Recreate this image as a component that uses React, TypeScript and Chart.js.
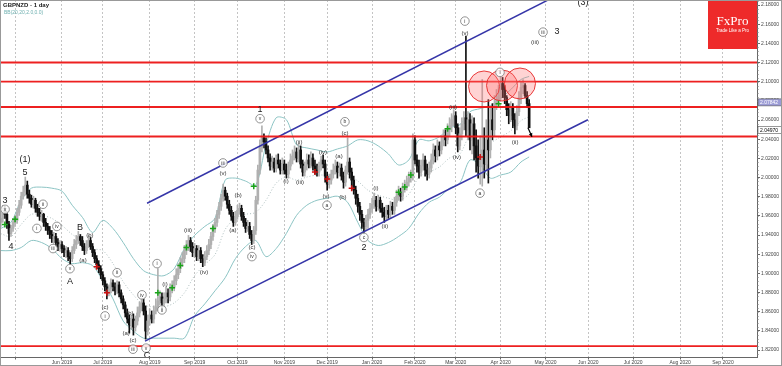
import React, { useEffect, useRef } from "react";
import { Chart, registerables } from "chart.js";

Chart.register(...registerables);

const FONT = "'Liberation Sans', 'DejaVu Sans', Arial, sans-serif";

// ---- candle data (daily, trading-day index; Jun 3 2019 = 0) ----
const START_INDEX = -30;
const FIRST_OPEN = 1.9532;
const closes = [
  1.9574, 1.9658, 1.9616, 1.9511, 1.9417, 1.9469, 1.9532, 1.9553, 1.9637, 1.9711,
  1.9805, 1.9847, 1.9921, 1.9826, 1.9784, 1.9721, 1.9763, 1.9679, 1.9637, 1.9595,
  1.9616, 1.9532, 1.949, 1.9448, 1.9406, 1.9364, 1.9385, 1.9322, 1.928, 1.9301,
  1.9259, 1.9217, 1.9238, 1.9175, 1.9154, 1.9238, 1.9301, 1.9343, 1.9385, 1.9343,
  1.928, 1.9238, 1.9301, 1.9343, 1.928, 1.9217, 1.9154, 1.9091, 1.9049, 1.8986,
  1.8923, 1.886, 1.8797, 1.8839, 1.8902, 1.886, 1.8818, 1.8881, 1.8797, 1.8734,
  1.8671, 1.8587, 1.8524, 1.8461, 1.8524, 1.844, 1.8503, 1.8587, 1.865, 1.8692,
  1.8608, 1.8398, 1.8503, 1.8566, 1.8524, 1.8608, 1.865, 1.8713, 1.8755, 1.8692,
  1.8734, 1.8797, 1.8755, 1.8839, 1.886, 1.8923, 1.8986, 1.9049, 1.9112, 1.9154,
  1.9238, 1.928, 1.9343, 1.928, 1.9217, 1.9259, 1.9175, 1.9238, 1.9154, 1.9112,
  1.9175, 1.9238, 1.9301, 1.9385, 1.9469, 1.9532, 1.9616, 1.97, 1.9784, 1.9868,
  1.9805, 1.9721, 1.9658, 1.9595, 1.9532, 1.9595, 1.9658, 1.9679, 1.9595, 1.9532,
  1.9469, 1.949, 1.9406, 1.9343, 1.9448, 1.9763, 2.0078, 2.0309, 2.0414, 2.0372,
  2.0288, 2.0204, 2.012, 2.0162, 2.0099, 2.0183, 2.0141, 2.0078, 2.0141, 2.0078,
  2.0036, 2.012, 2.0183, 2.0225, 2.0267, 2.0204, 2.0288, 2.0141, 2.0057, 2.012,
  2.0183, 2.0141, 2.0204, 2.012, 2.0078, 2.0057, 2.012, 2.0183, 2.0141, 2.0015,
  1.9931, 1.9973, 2.0036, 2.0078, 2.012, 2.0057, 2.0099, 2.0015, 1.9952, 2.0078,
  2.0162, 2.0057, 1.9973, 1.9868, 1.9784, 1.97, 1.9616, 1.9532, 1.949, 1.9553,
  1.9616, 1.9679, 1.9721, 1.9763, 1.97, 1.9763, 1.9679, 1.9637, 1.9595,
  1.9658, 1.9616, 1.97, 1.9658, 1.9742, 1.9805, 1.9847, 1.9805, 1.9889, 1.991,
  1.9952, 1.9994, 2.0015, 2.0393, 2.0183, 2.012, 2.0057, 2.012, 2.0183, 2.0078,
  2.0036, 2.0099, 2.0183, 2.0288, 2.0225, 2.033, 2.0288, 2.0372, 2.0435, 2.0393,
  2.0498, 2.054, 2.0603, 2.0645, 2.0519, 2.033, 2.0456, 2.0561, 2.0624, 2.0498,
  2.0603, 2.0393, 2.0561, 2.033, 2.0204, 2.012, 2.0183, 2.0288, 2.0141, 2.0393,
  2.0288, 2.0603, 2.0498, 2.0771, 2.0813, 2.0855, 2.0981, 2.0918, 2.0834, 2.0708,
  2.0645, 2.0729, 2.0603, 2.054, 2.0687, 2.0834, 2.0939, 2.096, 2.0855, 2.0771, 2.0519,
];
const highs = [
  1.9637, 1.9711, 1.97, 1.9648, 1.9543, 1.9501, 1.9574, 1.9606, 1.9679, 1.9763,
  1.9847, 1.991, 2.0005, 1.9963, 1.9868, 1.9816, 1.9805, 1.9784, 1.9721, 1.9679,
  1.9658, 1.9627, 1.9574, 1.9522, 1.949, 1.9448, 1.9427, 1.9417, 1.9364, 1.9343,
  1.9333, 1.9291, 1.928, 1.927, 1.9217, 1.928, 1.9354, 1.9396, 1.9438, 1.9406,
  1.9385, 1.9312, 1.9343, 1.9396, 1.9375, 1.9312, 1.9249, 1.9186, 1.9133, 1.9081,
  1.9018, 1.8955, 1.8892, 1.8881, 1.8944, 1.8934, 1.8902, 1.8923, 1.8913, 1.8829,
  1.8766, 1.8703, 1.8629, 1.8566, 1.8566, 1.8577, 1.8556, 1.865, 1.8703, 1.8745,
  1.8734, 1.8661, 1.8566, 1.8629, 1.8608, 1.8661, 1.8734, 1.9049, 1.8818, 1.8797,
  1.8797, 1.886, 1.8839, 1.8892, 1.8923, 1.8976, 1.9049, 1.9102, 1.9165, 1.9217,
  1.9291, 1.9343, 1.9396, 1.9375, 1.9322, 1.9312, 1.9291, 1.9291, 1.927, 1.9196,
  1.9228, 1.9291, 1.9354, 1.9427, 1.9511, 1.9574, 1.9658, 1.9742, 1.9826, 1.9931,
  1.99, 1.9837, 1.9763, 1.97, 1.9637, 1.9648, 1.9711, 1.9732, 1.9711, 1.9637,
  1.9574, 1.9553, 1.9532, 1.9448, 1.949, 1.9805, 2.0131, 2.0393, 2.054, 2.0456,
  2.0414, 2.033, 2.0246, 2.0225, 2.0204, 2.0236, 2.0246, 2.0183, 2.0204, 2.0183,
  2.0141, 2.0162, 2.0246, 2.0288, 2.033, 2.0309, 2.0351, 2.033, 2.0183, 2.0162,
  2.0246, 2.0236, 2.0267, 2.0246, 2.0183, 2.0141, 2.0162, 2.0225, 2.0236, 2.0183,
  2.0057, 2.0036, 2.0078, 2.0141, 2.0183, 2.0162, 2.0152, 2.0141, 2.0057, 2.012,
  2.0414, 2.0204, 2.0099, 2.0015, 1.991, 1.9826, 1.9742, 1.9658, 1.9574, 1.9606,
  1.9669, 1.9732, 1.9784, 1.9837, 1.9805, 1.9816, 1.9795, 1.9732, 1.969,
  1.9711, 1.9711, 1.9753, 1.9742, 1.9795, 1.9868, 1.991, 1.9889, 1.9942, 1.9973,
  2.0015, 2.0057, 2.0078, 2.0456, 2.0435, 2.0236, 2.0183, 2.0183, 2.0246, 2.0225,
  2.0141, 2.0162, 2.0246, 2.0351, 2.033, 2.0393, 2.0372, 2.0435, 2.0498, 2.0498,
  2.0561, 2.0624, 2.0666, 2.0708, 2.0687, 2.0561, 2.0519, 2.0624, 2.0687, 2.1475,
  2.0687, 2.0666, 2.0645, 2.0624, 2.0498, 2.0393, 2.0435, 2.1023, 2.0519, 2.0603,
  2.0813, 2.0729, 2.0771, 2.0855, 2.0918, 2.096, 2.1065, 2.1044, 2.096, 2.0855,
  2.0771, 2.0792, 2.0771, 2.0666, 2.075, 2.0897, 2.1002, 2.1023, 2.0981, 2.0897, 2.0813,
];
const lows = [
  1.949, 1.9532, 1.9574, 1.9469, 1.9343, 1.9385, 1.9438, 1.949, 1.9522, 1.9606,
  1.9679, 1.9774, 1.9816, 1.9784, 1.9732, 1.969, 1.9679, 1.9637, 1.9595, 1.9553,
  1.9543, 1.949, 1.9448, 1.9406, 1.9364, 1.9322, 1.9312, 1.928, 1.9238, 1.9228,
  1.9217, 1.9175, 1.9165, 1.9133, 1.9102, 1.9123, 1.9207, 1.9259, 1.9312, 1.9291,
  1.9238, 1.9196, 1.9207, 1.927, 1.9249, 1.9175, 1.9112, 1.9049, 1.9007, 1.8944,
  1.8881, 1.8818, 1.8734, 1.8766, 1.8797, 1.8818, 1.8776, 1.8787, 1.8755, 1.8692,
  1.8629, 1.8545, 1.8482, 1.8377, 1.8419, 1.8356, 1.8398, 1.8461, 1.8545, 1.8608,
  1.8566, 1.8314, 1.8356, 1.8461, 1.8482, 1.8482, 1.8577, 1.8608, 1.8671, 1.8629,
  1.865, 1.8692, 1.8692, 1.8713, 1.8797, 1.8818, 1.8881, 1.8944, 1.9007, 1.907,
  1.9112, 1.9196, 1.9238, 1.9228, 1.9175, 1.9165, 1.9133, 1.9133, 1.9112, 1.907,
  1.9081, 1.9144, 1.9196, 1.9259, 1.9343, 1.9427, 1.949, 1.9574, 1.9658, 1.9753,
  1.9763, 1.9679, 1.9616, 1.9553, 1.949, 1.9501, 1.9564, 1.9616, 1.9553, 1.949,
  1.9427, 1.9438, 1.9364, 1.9301, 1.9312, 1.9406, 1.9721, 2.0036, 2.0267, 2.0309,
  2.0246, 2.0162, 2.0078, 2.0078, 2.0057, 2.0057, 2.0099, 2.0036, 2.0036, 2.0036,
  1.9994, 1.9994, 2.0078, 2.0141, 2.0183, 2.0162, 2.0162, 2.0099, 2.0015, 2.0015,
  2.0078, 2.0099, 2.0099, 2.0078, 2.0036, 2.0015, 2.0015, 2.0078, 2.0099, 1.9952,
  1.9868, 1.9889, 1.9931, 1.9994, 2.0036, 1.9994, 2.0015, 1.9973, 1.9889, 1.991,
  2.0036, 1.9994, 1.991, 1.9826, 1.9721, 1.9637, 1.9553, 1.9469, 1.9427, 1.9448,
  1.9469, 1.9574, 1.9637, 1.9679, 1.9648, 1.9658, 1.9637, 1.9585, 1.9532,
  1.9553, 1.9574, 1.9574, 1.9616, 1.9616, 1.97, 1.9763, 1.9753, 1.9763, 1.9847,
  1.9868, 1.991, 1.9952, 1.9973, 2.0141, 2.0057, 1.9994, 2.0015, 2.0078, 2.0015,
  1.9973, 1.9994, 2.0057, 2.0141, 2.0162, 2.0183, 2.0225, 2.0246, 2.033, 2.033,
  2.0351, 2.0435, 2.0477, 2.054, 2.0456, 2.0267, 2.0288, 2.0393, 2.0498, 2.0435,
  2.0393, 2.0288, 2.0246, 2.0183, 2.0057, 1.9994, 1.9931, 1.991, 1.9994, 2.0078,
  1.9942, 2.0204, 2.0393, 2.0435, 2.0708, 2.075, 2.0813, 2.0834, 2.0771, 2.0645,
  2.0561, 2.0582, 2.0519, 2.0456, 2.0498, 2.0645, 2.0771, 2.0876, 2.0834, 2.0729, 2.0519,
];

// ---- Bollinger band readings (sampled) ----
const bandIdx = [
  -30, -25, -20, -15, -10, -5, 0, 5, 10, 15, 20, 25, 30, 35, 40, 45, 50, 55, 60, 65,
  70, 75, 80, 85, 90, 95, 100, 105, 110, 115, 120, 125, 130, 135, 140, 145, 150, 155, 160, 165,
  170, 175, 180, 185, 190, 195, 200, 205, 210, 215, 220, 225, 229,
];
const bandUpper = [
  1.9469, 1.9532, 1.9763, 1.9889, 1.99, 1.9889, 1.9858, 1.9711, 1.9585, 1.9427,
  1.9553, 1.9469, 1.9322, 1.9154, 1.9028, 1.8986, 1.8976, 1.9049, 1.9259, 1.9396,
  1.949, 1.9574, 1.9973, 1.9994, 1.9963, 1.9921, 2.034, 2.0624, 2.0603, 2.034,
  2.0309, 2.0288, 2.0267, 2.0298, 2.033, 2.0393, 2.0383, 2.033, 2.0246, 2.0131,
  2.0183, 2.0393, 2.0383, 2.0425, 2.0519, 2.055, 2.0687, 2.0719, 2.075, 2.0824,
  2.0918, 2.1023, 2.1055,
];
const bandMiddle = [
  1.9414, 1.9385, 1.9511, 1.9616, 1.9606, 1.9574, 1.9501, 1.9406, 1.9343, 1.9259,
  1.9238, 1.9102, 1.8913, 1.8776, 1.8671, 1.865, 1.865, 1.8692, 1.8797, 1.8976,
  1.9091, 1.9196, 1.9459, 1.9574, 1.9616, 1.9637, 1.9763, 1.9942, 2.0005, 1.9973,
  2.0005, 2.0026, 2.0026, 2.0047, 2.0036, 1.9963, 1.9868, 1.9816, 1.9784, 1.9763,
  1.9826, 2.0005, 2.0057, 2.011, 2.0204, 2.0246, 2.0435, 2.0425, 2.0372, 2.0425,
  2.0488, 2.0593, 2.0635,
];
const bandLower = [
  1.9238, 1.9238, 1.927, 1.9343, 1.9322, 1.9259, 1.9154, 1.9102, 1.9112, 1.9081,
  1.8923, 1.8734, 1.8503, 1.8398, 1.8324, 1.8324, 1.8324, 1.8324, 1.8324, 1.8556,
  1.8682, 1.8818, 1.8955, 1.9154, 1.928, 1.9343, 1.9175, 1.9259, 1.9417, 1.9606,
  1.9711, 1.9763, 1.9784, 1.9805, 1.9742, 1.9532, 1.9343, 1.9291, 1.9322, 1.9385,
  1.9469, 1.9627, 1.9742, 1.9795, 1.9889, 1.9942, 2.0183, 2.0131, 1.9994, 2.0026,
  2.0057, 2.0162, 2.0215,
];

// ---- axes ----
const monthTicks = [-23, 0, 20, 43, 65, 86, 109, 130, 152, 173, 193, 215, 237, 258, 280, 303, 324];
const monthLabels = [
  "", "Jun 2019", "Jul 2019", "Aug 2019", "Sep 2019", "Oct 2019", "Nov 2019", "Dec 2019",
  "Jan 2020", "Feb 2020", "Mar 2020", "Apr 2020", "May 2020", "Jun 2020", "Jul 2020", "Aug 2020", "Sep 2020",
];
const priceTicks = [
  1.82, 1.84, 1.86, 1.88, 1.9, 1.92, 1.94, 1.96, 1.98, 2.0,
  2.02, 2.04, 2.06, 2.08, 2.1, 2.12, 2.14, 2.16, 2.18,
];
const X_MIN = -30.39;
const X_MAX = 340.69;
const Y_MIN = 1.81276;
const Y_MAX = 2.18522;
const MINOR_STEP = 0.004;

// ---- drawn objects ----
const levelPrices = [2.12, 2.1, 2.0736, 2.0428, 1.8241];
const upperChannelIdx = [41.7, 245];
const upperChannelVal = [1.9732, 2.1925];
const lowerChannelIdx = [40.7, 257.8];
const lowerChannelVal = [1.8293, 2.0603];
const greenIdx = [-28, -23, 47, 54, 58, 61, 74, 94, 165, 168, 171, 189, 214];
const greenVal = [1.9511, 1.9564, 1.8797, 1.885, 1.9081, 1.927, 1.9469, 1.991, 1.9847, 1.99, 2.0026, 2.0509, 2.0771];
const redIdx = [17, 22, 124, 130, 142, 205];
const redVal = [1.907, 1.8797, 2.0057, 1.9984, 1.9889, 2.0215];
const circleIdx = [206.9, 215.7, 224.5];
const circleVal = [2.095, 2.096, 2.0981];
const arrowIdx = [228.4, 230.4];
const arrowVal = [2.0519, 2.0425];
const priceBoxes = [
  { v: 2.0784, text: "2.07842", bg: "#9c9cd6", fg: "#ffffff" },
  { v: 2.0497, text: "2.04970", bg: "#ffffff", fg: "#000000" },
];

// [text, index, price, kind]  kind: b = big, p = plain small, c = circled
const waveLabels: [string, number, number, string][] = [
  ["3", -27.9, 1.9763, "b"], ["v", -27.9, 1.9668, "c"], ["4", -25.0, 1.928, "b"],
  ["(1)", -18.1, 2.0183, "b"], ["5", -18.1, 2.0057, "b"],
  ["i", -12.3, 1.9469, "c"], ["ii", -9.3, 1.9721, "c"], ["iii", -4.4, 1.9259, "c"],
  ["iv", -2.5, 1.949, "c"], ["v", 3.9, 1.9049, "c"], ["A", 3.9, 1.8913, "b"],
  ["B", 8.8, 1.948, "b"], ["(a)", 10.3, 1.9133, "p"], ["(b)", 13.7, 1.9396, "p"],
  ["(c)", 21.1, 1.865, "p"], ["i", 21.1, 1.8556, "c"], ["ii", 27.0, 1.9007, "c"],
  ["(a)", 31.4, 1.8377, "p"], ["(b)", 33.3, 1.8587, "p"], ["(c)", 34.8, 1.8304, "p"],
  ["iii", 34.8, 1.8209, "c"], ["iv", 39.2, 1.8776, "c"], ["v", 41.2, 1.822, "c"],
  ["C", 41.7, 1.8145, "b"],
  ["i", 46.6, 1.9102, "c"], ["(i)", 50.5, 1.8881, "p"], ["ii", 49.0, 1.8619, "c"],
  ["(iii)", 61.8, 1.9448, "p"], ["(iv)", 69.6, 1.9007, "p"],
  ["iii", 78.9, 2.0152, "c"], ["(v)", 78.9, 2.0047, "p"],
  ["(a)", 83.8, 1.9448, "p"], ["(b)", 86.3, 1.9816, "p"], ["(c)", 93.1, 1.927, "p"],
  ["iv", 93.1, 1.9175, "c"], ["1", 97.1, 2.0708, "b"], ["v", 97.1, 2.0614, "c"],
  ["(i)", 109.8, 1.9963, "p"], ["(ii)", 116.2, 2.0372, "p"], ["(iii)", 116.7, 1.9952, "p"],
  ["(iv)", 127.9, 2.0267, "p"], ["(v)", 129.4, 1.9805, "p"], ["a", 129.9, 1.9711, "c"],
  ["(a)", 135.8, 2.0225, "p"], ["(b)", 137.7, 1.9795, "p"], ["b", 138.7, 2.0582, "c"],
  ["(c)", 138.7, 2.0466, "p"], ["c", 148.0, 1.9375, "c"], ["2", 148.0, 1.927, "b"],
  ["(i)", 153.9, 1.9889, "p"], ["(ii)", 158.3, 1.949, "p"],
  ["(iii)", 191.7, 2.0729, "p"], ["(iv)", 193.6, 2.0215, "p"],
  ["i", 197.5, 2.1632, "c"], ["(v)", 197.5, 2.1506, "p"], ["a", 204.9, 1.9837, "c"],
  ["i", 214.7, 2.1097, "c"], ["(ii)", 222.1, 2.0372, "p"],
  ["(iii)", 231.9, 2.1412, "p"], ["iii", 235.8, 2.1517, "c"], ["3", 242.6, 2.1527, "b"],
  ["(3)", 255.4, 2.1821, "b"],
];

const UP = "#b0b0b0";
const DOWN = "#111111";

const overlayPlugin = {
  id: "overlay",
  afterDatasetsDraw(chart: any) {
    const { ctx, chartArea, scales } = chart;
    const xs = scales.x;
    const ys = scales.y;
    ctx.save();
    ctx.beginPath();
    ctx.rect(chartArea.left, chartArea.top, chartArea.right - chartArea.left, chartArea.bottom - chartArea.top);
    ctx.clip();
    // arrow
    const ax0 = xs.getPixelForValue(arrowIdx[0]);
    const ay0 = ys.getPixelForValue(arrowVal[0]);
    const ax1 = xs.getPixelForValue(arrowIdx[1]);
    const ay1 = ys.getPixelForValue(arrowVal[1]);
    ctx.strokeStyle = "#000";
    ctx.fillStyle = "#000";
    ctx.lineWidth = 1.2;
    ctx.beginPath();
    ctx.moveTo(ax0, ay0);
    ctx.lineTo(ax1, ay1);
    ctx.stroke();
    const ang = Math.atan2(ay1 - ay0, ax1 - ax0);
    ctx.beginPath();
    ctx.moveTo(ax1, ay1);
    ctx.lineTo(ax1 - 4 * Math.cos(ang - 0.5), ay1 - 4 * Math.sin(ang - 0.5));
    ctx.lineTo(ax1 - 4 * Math.cos(ang + 0.5), ay1 - 4 * Math.sin(ang + 0.5));
    ctx.closePath();
    ctx.fill();
    // wave labels
    ctx.textAlign = "center";
    ctx.textBaseline = "middle";
    for (const [t, i, p, kind] of waveLabels) {
      const px = xs.getPixelForValue(i);
      const py = ys.getPixelForValue(p);
      if (kind === "b") {
        ctx.font = `9px ${FONT}`;
        ctx.fillStyle = "#1a1a1a";
        ctx.fillText(t, px, py);
      } else if (kind === "p") {
        ctx.font = `6px ${FONT}`;
        ctx.fillStyle = "#333";
        ctx.fillText(t, px, py);
      } else {
        ctx.beginPath();
        ctx.arc(px, py, 4.3, 0, Math.PI * 2);
        ctx.fillStyle = "rgba(255,255,255,0.85)";
        ctx.fill();
        ctx.strokeStyle = "#777";
        ctx.lineWidth = 0.8;
        ctx.stroke();
        ctx.font = `5px ${FONT}`;
        ctx.fillStyle = "#333";
        ctx.fillText(t, px, py + 0.3);
      }
    }
    ctx.restore();
  },
  afterDraw(chart: any) {
    const { ctx, chartArea, scales } = chart;
    const ys = scales.y;
    ctx.save();
    // minor ticks on price axis
    ctx.strokeStyle = "#777";
    ctx.lineWidth = 1;
    for (let v = priceTicks[0] - MINOR_STEP; v <= Y_MAX; v += MINOR_STEP) {
      const py = Math.round(ys.getPixelForValue(v)) + 0.5;
      if (py < chartArea.top || py > chartArea.bottom) continue;
      ctx.beginPath();
      ctx.moveTo(chartArea.right, py);
      ctx.lineTo(chartArea.right + 1.5, py);
      ctx.stroke();
    }
    // title
    ctx.textAlign = "left";
    ctx.textBaseline = "middle";
    ctx.font = `bold 6px ${FONT}`;
    ctx.fillStyle = "#222";
    ctx.fillText("GBPNZD - 1 day", 3, 5);
    ctx.font = `5px ${FONT}`;
    ctx.fillStyle = "#6fb0b0";
    ctx.fillText("BB(20,20,2.0,0.0)", 4, 12.5);
    // logo
    ctx.fillStyle = "#ee2a2a";
    ctx.fillRect(708, 0, 49, 49);
    ctx.fillStyle = "#fff";
    ctx.textAlign = "center";
    ctx.font = `13px 'Liberation Serif', 'DejaVu Serif', serif`;
    ctx.fillText("FxPro", 732.5, 22);
    ctx.font = `4.5px ${FONT}`;
    ctx.fillText("Trade Like a Pro", 732.5, 31);
    // price boxes on axis
    ctx.textAlign = "left";
    for (const b of priceBoxes) {
      const py = ys.getPixelForValue(b.v);
      ctx.fillStyle = b.bg;
      ctx.fillRect(chartArea.right + 1, py - 3.5, 24, 7);
      ctx.strokeStyle = "#555";
      ctx.lineWidth = 0.6;
      ctx.strokeRect(chartArea.right + 1, py - 3.5, 24, 7);
      ctx.fillStyle = b.fg;
      ctx.font = `5px ${FONT}`;
      ctx.fillText(b.text, chartArea.right + 3, py + 0.3);
    }
    // outer frame
    ctx.strokeStyle = "#999";
    ctx.lineWidth = 1;
    ctx.strokeRect(0.5, 0.5, 781, 365);
    ctx.restore();
  },
};

export default function App() {
  const ref = useRef<HTMLCanvasElement | null>(null);
  useEffect(() => {
    const canvas = ref.current;
    if (!canvas) return;
    const idx = closes.map((_, k) => START_INDEX + k);
    const opens = closes.map((c, k) => (k === 0 ? FIRST_OPEN : closes[k - 1]));
    const colors = closes.map((c, k) => (c >= opens[k] ? UP : DOWN));
    const line = (xsArr: number[], vals: number[]) => xsArr.map((x, k) => ({ x, y: vals[k] }));
    const datasets: any[] = [];
    datasets.push({
      type: "line", data: line(bandIdx, bandUpper), borderColor: "#8cc4c4", borderWidth: 1,
      pointRadius: 0, tension: 0.3, order: 80,
    });
    datasets.push({
      type: "line", data: line(bandIdx, bandLower), borderColor: "#8cc4c4", borderWidth: 1,
      pointRadius: 0, tension: 0.3, order: 80,
    });
    datasets.push({
      type: "line", data: line(bandIdx, bandMiddle), borderColor: "#9ab0b0", borderWidth: 0.8,
      borderDash: [1, 2], pointRadius: 0, tension: 0.3, order: 80,
    });
    datasets.push({
      type: "bar", data: idx.map((x, k) => ({ x, y: [lows[k], highs[k]] })),
      backgroundColor: colors, barThickness: 1, grouped: false, order: 60, minBarLength: 1,
    });
    datasets.push({
      type: "bar", data: idx.map((x, k) => ({ x, y: [opens[k], closes[k]] })),
      backgroundColor: colors, barThickness: 2, grouped: false, order: 59, minBarLength: 1,
    });
    datasets.push({
      type: "line", data: line(upperChannelIdx, upperChannelVal), borderColor: "#3535a8", borderWidth: 1.5,
      pointRadius: 0, order: 40,
    });
    datasets.push({
      type: "line", data: line(lowerChannelIdx, lowerChannelVal), borderColor: "#3535a8", borderWidth: 1.5,
      pointRadius: 0, order: 40,
    });
    for (const lv of levelPrices) {
      datasets.push({
        type: "line", data: [{ x: X_MIN - 5, y: lv }, { x: X_MAX + 5, y: lv }],
        borderColor: "rgba(236,20,20,0.95)", borderWidth: 1.8, pointRadius: 0, order: 30,
      });
    }
    datasets.push({
      type: "scatter", data: line(greenIdx, greenVal), pointStyle: "cross", pointRadius: 3,
      borderColor: "#19a319", backgroundColor: "#19a319", borderWidth: 1.5, order: 20,
    });
    datasets.push({
      type: "scatter", data: line(redIdx, redVal), pointStyle: "cross", pointRadius: 3,
      borderColor: "#cc1111", backgroundColor: "#cc1111", borderWidth: 1.5, order: 20,
    });
    datasets.push({
      type: "scatter", data: line(circleIdx, circleVal), pointRadius: 15.5,
      backgroundColor: "rgba(255,110,110,0.3)", borderColor: "rgba(230,40,40,0.9)", borderWidth: 1, order: 10,
    });

    const chart = new Chart(canvas, {
      type: "bar",
      data: { datasets },
      plugins: [overlayPlugin],
      options: {
        animation: false,
        responsive: false,
        maintainAspectRatio: false,
        layout: { padding: 0, autoPadding: false },
        events: [],
        plugins: { legend: { display: false }, tooltip: { enabled: false } },
        scales: {
          x: {
            type: "linear", min: X_MIN, max: X_MAX, offset: false,
            afterBuildTicks: (s: any) => { s.ticks = monthTicks.map((v) => ({ value: v })); },
            afterFit: (s: any) => { s.height = 9; s.paddingLeft = 0; s.paddingRight = 0; },
            ticks: {
              autoSkip: false, maxRotation: 0, padding: 0, color: "#444",
              font: { size: 5, family: FONT },
              callback: (v: any) => { const k = monthTicks.indexOf(v); return k >= 0 ? monthLabels[k] : ""; },
            },
            grid: { offset: false, color: "#c4c4c4", lineWidth: 1, tickLength: 2.5, tickColor: "#666", tickBorderDash: [] },
            border: { color: "#666", dash: [2, 2] },
          },
          y: {
            type: "linear", position: "right", min: Y_MIN, max: Y_MAX,
            afterBuildTicks: (s: any) => { s.ticks = priceTicks.map((v) => ({ value: v })); },
            afterFit: (s: any) => { s.width = 25; s.paddingTop = 0; s.paddingBottom = 0; },
            ticks: {
              padding: 1, color: "#444", font: { size: 5, family: FONT },
              callback: (v: any) => Number(v).toFixed(5),
            },
            grid: { drawOnChartArea: false, tickLength: 3, tickColor: "#666" },
            border: { color: "#666" },
          },
        },
      } as any,
    });
    return () => chart.destroy();
  }, []);
  return (
    <div style={{ position: "fixed", left: 0, top: 0, width: 782, height: 366, background: "#fff" }}>
      <canvas ref={ref} width={782} height={366} style={{ width: 782, height: 366, display: "block" }} />
    </div>
  );
}
